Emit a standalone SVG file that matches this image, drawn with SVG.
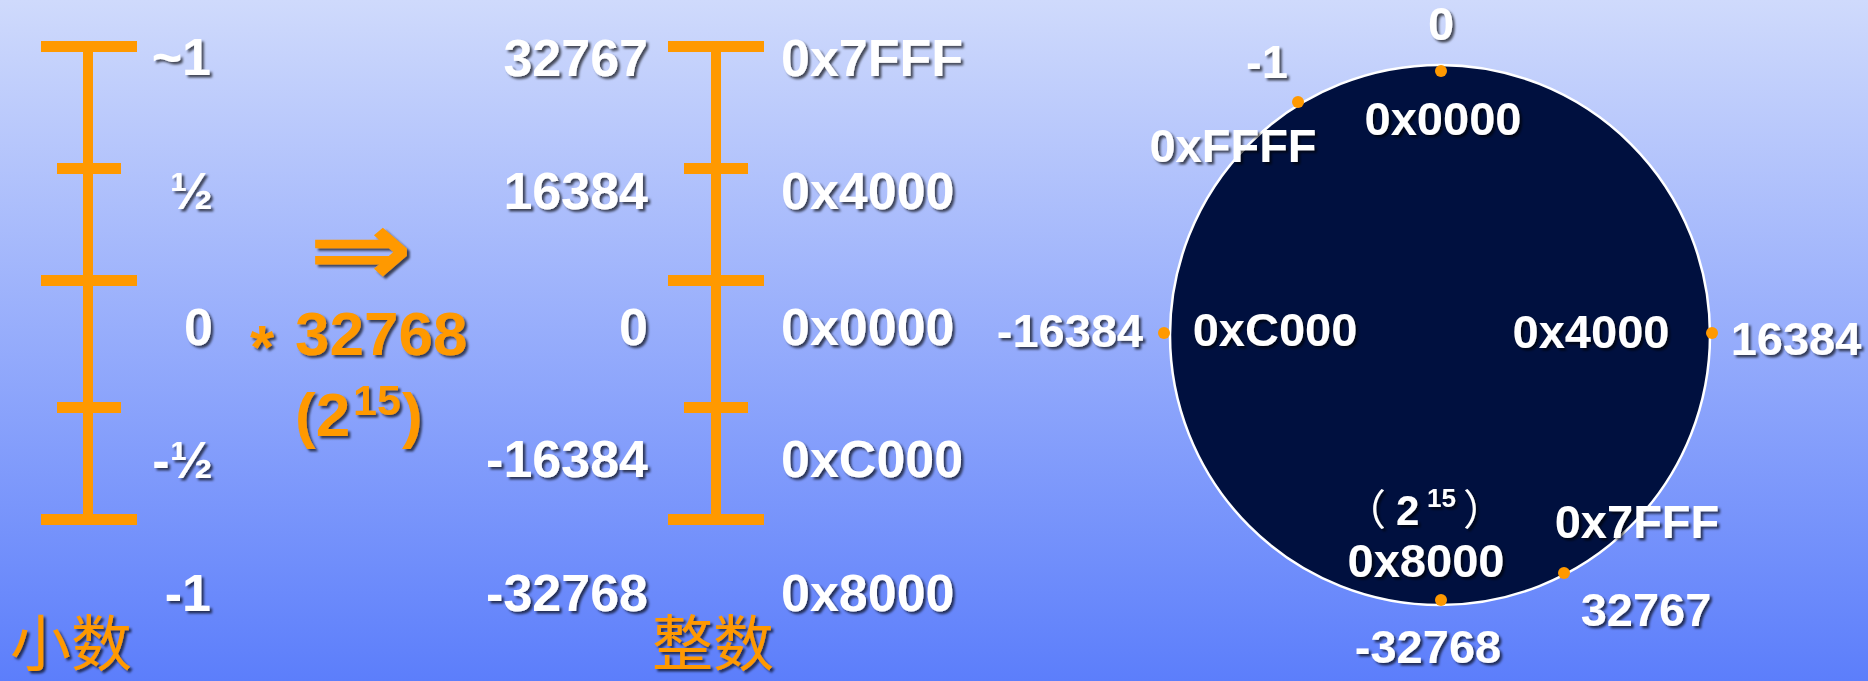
<svg xmlns="http://www.w3.org/2000/svg" width="1868" height="681" viewBox="0 0 1868 681">
  <defs>
    <linearGradient id="bg" x1="0" y1="0" x2="0" y2="1">
      <stop offset="0" stop-color="#CFDAFC"/>
      <stop offset="1" stop-color="#5C7EFB"/>
    </linearGradient>
    <filter id="sh" x="-10%" y="-20%" width="130%" height="150%">
      <feDropShadow dx="2.5" dy="2.5" stdDeviation="0.8" flood-color="#000" flood-opacity="0.65"/>
    </filter>
  </defs>
  <style>
    .bar { fill: #FF9900; }
    .w { fill: #FFFFFF; font-family: "Liberation Sans", Arial, sans-serif; font-weight: bold; filter: url(#sh); }
    .o { fill: #FF9900; font-family: "Liberation Sans", Arial, sans-serif; font-weight: bold; filter: url(#sh); }
    .big { font-size: 52px; }
    .sm { font-size: 47px; }
    .end { text-anchor: end; }
    .mid { text-anchor: middle; }
    .cj { fill: #FF9900; font-family: "Noto Sans CJK SC", sans-serif; font-size: 61px; filter: url(#sh); }
    .par { font-family: "Noto Sans CJK SC", sans-serif; font-weight: normal; font-size: 42px; }
    .dot { fill: #FF9900; }
  </style>

  <rect width="1868" height="681" fill="url(#bg)"/>

  <g id="fraction-scale">
    <rect class="bar" x="83" y="46" width="10" height="474"/>
    <rect class="bar" x="41" y="41" width="96" height="11"/>
    <rect class="bar" x="57" y="163" width="64" height="11"/>
    <rect class="bar" x="41" y="275" width="96" height="11"/>
    <rect class="bar" x="57" y="402" width="64" height="11"/>
    <rect class="bar" x="41" y="514" width="96" height="11"/>
  </g>

  <g id="fraction-labels">
    <text class="w big end" x="211" y="75">~1</text>
    <text class="w big end" x="213" y="209">½</text>
    <text class="w big end" x="213" y="345">0</text>
    <text class="w big end" x="213" y="478">-½</text>
    <text class="w big end" x="211" y="611">-1</text>
    <text class="cj" x="10" y="666">小数</text>
  </g>

  <g id="conversion">
    <text class="o" transform="translate(308,286) scale(1.16,1)" style="font-family:'DejaVu Sans',sans-serif;font-size:108px;font-weight:bold">⇒</text>
    <text class="o"><tspan x="250" y="368" font-size="62">*</tspan><tspan x="295" y="355" font-size="62">32768</tspan></text>
    <text class="o" font-size="62"><tspan x="295" y="436">(2</tspan><tspan x="353" y="415" font-size="43">15</tspan><tspan x="402" y="436">)</tspan></text>
  </g>

  <g id="integer-scale">
    <rect class="bar" x="711" y="46" width="10" height="474"/>
    <rect class="bar" x="668" y="41" width="96" height="11"/>
    <rect class="bar" x="684" y="163" width="64" height="11"/>
    <rect class="bar" x="668" y="275" width="96" height="11"/>
    <rect class="bar" x="684" y="402" width="64" height="11"/>
    <rect class="bar" x="668" y="514" width="96" height="11"/>
  </g>

  <g id="integer-labels">
    <text class="w big end" x="648" y="76">32767</text>
    <text class="w big end" x="648" y="209">16384</text>
    <text class="w big end" x="648" y="345">0</text>
    <text class="w big end" x="648" y="477">-16384</text>
    <text class="w big end" x="648" y="611">-32768</text>
    <text class="cj" x="652" y="666">整数</text>
  </g>

  <g id="hex-labels">
    <text class="w big" x="781" y="76">0x7FFF</text>
    <text class="w big" x="781" y="209">0x4000</text>
    <text class="w big" x="781" y="345">0x0000</text>
    <text class="w big" x="781" y="477">0xC000</text>
    <text class="w big" x="781" y="611">0x8000</text>
  </g>

  <g id="circle">
    <circle cx="1440" cy="335" r="270" fill="#00103F" stroke="#FFFFFF" stroke-width="2.5"/>
    <circle class="dot" cx="1441" cy="71" r="6"/>
    <circle class="dot" cx="1298" cy="102" r="6"/>
    <circle class="dot" cx="1164" cy="333" r="6"/>
    <circle class="dot" cx="1712" cy="333" r="6"/>
    <circle class="dot" cx="1441" cy="600" r="6"/>
    <circle class="dot" cx="1564" cy="573" r="6"/>
  </g>

  <g id="circle-labels">
    <text class="w sm mid" x="1441" y="40">0</text>
    <text class="w sm mid" x="1267" y="78">-1</text>
    <text class="w sm mid" x="1443" y="135">0x0000</text>
    <text class="w sm mid" x="1233" y="162">0xFFFF</text>
    <text class="w sm mid" x="1070" y="347">-16384</text>
    <text class="w sm mid" x="1275" y="346">0xC000</text>
    <text class="w sm mid" x="1591" y="348">0x4000</text>
    <text class="w sm mid" x="1796" y="355">16384</text>
    <text class="w"><tspan class="par" x="1344" y="525">（</tspan><tspan x="1396" y="525" font-size="42">2</tspan><tspan x="1427" y="507" font-size="26">15</tspan><tspan class="par" x="1463" y="525">）</tspan></text>
    <text class="w sm mid" x="1426" y="577">0x8000</text>
    <text class="w sm mid" x="1637" y="538">0x7FFF</text>
    <text class="w sm mid" x="1646" y="626">32767</text>
    <text class="w sm mid" x="1428" y="663">-32768</text>
  </g>
</svg>
